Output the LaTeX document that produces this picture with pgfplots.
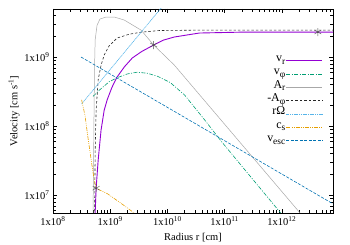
\documentclass[border=0pt]{standalone}
\usepackage{fontspec}
\setmainfont{Liberation Serif}
\usepackage{pgfplots}
\pgfplotsset{compat=1.18}
\definecolor{cpurple}{HTML}{9400D3}
\definecolor{cgreen}{HTML}{009E73}
\definecolor{ccyan}{HTML}{56B4E9}
\definecolor{corange}{HTML}{E69F00}
\definecolor{cblue}{HTML}{0072B2}
\definecolor{cgray}{HTML}{A8A8A8}
\newcommand\sub[1]{\raisebox{-0.22em}{\fontsize{9.5}{9.5}\selectfont #1}}
\begin{document}
\begin{tikzpicture}
\path[use as bounding box] (-53bp,-32bp) rectangle (297bp,213bp);
\begin{axis}[
  at={(0,0)}, anchor=south west,
  scale only axis, width=280bp, height=204bp,
  xmode=log, ymode=log,
  xmin=1e8, xmax=7.852e12,
  ymin=5.495e6, ymax=4.966e9,
  tick align=inside,
  axis line style={line width=0.6pt},
  every tick/.style={black, line width=0.4pt},
  log number format basis/.code 2 args={1x#1\textsuperscript{\pgfmathprintnumber{#2}}},
  tick label style={font=\fontsize{10.5}{11}\selectfont},
  /pgf/number format/assume math mode=true,
  xlabel={Radius r [cm]},
  ylabel={Velocity [cm s\textsuperscript{-1}]},
  label style={font=\fontsize{10.5}{12}\selectfont},
  xlabel style={at={(axis description cs:0.5,-0.1225)}, anchor=center},
  ylabel style={at={(axis description cs:-0.139,0.5)}, anchor=center},
  legend plot pos=right,
  legend cell align=right,
  legend style={draw=none, fill=none, at={(rel axis cs:0.975,0.795)}, anchor=north east,
    font=\fontsize{12}{13}\selectfont, row sep=0pt,
    nodes={inner sep=0.6pt, text height=8bp, text depth=4.1bp}},
  legend image code/.code={\draw[#1] (1bp,-1bp) -- (37bp,-1bp);},
]
% v_r
\addplot[cpurple, line width=0.9pt] coordinates {
(5.433e8,5.012e6) (5.675e8,1.259e7) (6.166e8,3.236e7) (6.918e8,8.710e7)
(7.852e8,1.698e8) (8.851e8,2.399e8) (1.072e9,3.631e8) (1.318e9,5.129e8)
(1.778e9,7.244e8) (2.432e9,9.683e8) (3.548e9,1.202e9) (5.754e9,1.493e9)
(8.511e9,1.758e9) (1.318e10,1.950e9) (3.631e10,2.228e9) (1.820e11,2.291e9)
(1e12,2.301e9) (7.943e12,2.301e9)};
\addlegendentry{v\sub{r}}
% v_phi
\addplot[cgreen, line width=0.6pt, dash pattern=on 4pt off 1.5pt on 1pt off 1.5pt] coordinates {
(5.012e8,2.692e8) (6.457e8,3.311e8) (9.550e8,4.365e8) (1.318e9,5.012e8)
(1.995e9,5.689e8) (2.951e9,6.026e8) (4.467e9,5.821e8) (6.761e9,5.248e8)
(1.122e10,4.266e8) (1.995e10,2.818e8) (4.467e10,1.230e8) (8.913e10,5.888e7)
(3.162e11,1.660e7) (1.122e12,4.677e6)};
\addlegendentry{v\sub{φ}}
% A_r
\addplot[cgray, line width=0.5pt] coordinates {
(5.012e8,5.012e6) (5.188e8,1e8) (5.309e8,6.310e8) (5.458e8,1.778e9)
(5.888e8,2.884e9) (6.607e8,3.548e9) (8.511e8,3.802e9) (1.175e9,3.802e9)
(1.758e9,3.436e9) (3.467e9,2.455e9) (5.754e9,1.493e9) (1.318e10,7.656e8)
(2.291e12,5.012e6)};
\addlegendentry{A\sub{r}}
% -A_phi
\addplot[black!85, line width=0.6pt, dash pattern=on 2.5pt off 2pt] coordinates {
(5.346e8,5.012e6) (5.458e8,4.467e7) (5.675e8,1.698e8) (6.166e8,4.677e8)
(6.918e8,7.586e8) (7.852e8,1.072e9) (9.550e8,1.445e9) (1.318e9,1.884e9)
(2.138e9,2.138e9) (3.467e9,2.291e9) (7.244e9,2.421e9) (3.631e10,2.455e9)
(7.943e12,2.455e9)};
\addlegendentry{-A\sub{φ}}
% r Omega
\addplot[ccyan, line width=0.6pt, dash pattern=on 1.2pt off 0.6pt] coordinates {
(3.162e8,2.089e8) (1e10,6.607e9)};
\addlegendentry{rΩ}
% c_s
\addplot[corange, line width=0.6pt, dash pattern=on 4pt off 1.2pt on 0.8pt off 1.2pt on 0.8pt off 1.2pt] coordinates {
(3.162e8,2.399e8) (3.631e8,1.413e8) (3.981e8,7.943e7) (4.645e8,3.236e7)
(5.248e8,1.660e7) (5.675e8,1.259e7) (7.079e8,1.148e7) (8.913e8,1.047e7)
(1.549e9,7.586e6) (2.630e9,5.495e6) (3.090e9,5.012e6)};
\addlegendentry{c\sub{s}}
% v_esc
\addplot[cblue, line width=0.6pt, dash pattern=on 3pt off 1.5pt] coordinates {
(3.090e8,1e9) (7.943e12,7.413e6)};
\addlegendentry{v\sub{esc}}
% sonic / Alfven / fast points
\addplot[only marks, mark=asterisk, mark size=4bp, black!70, line width=0.4pt, forget plot] coordinates {
(5.675e8,1.259e7) (5.754e9,1.493e9) (4.266e12,2.301e9)};
\end{axis}
\end{tikzpicture}
\end{document}
